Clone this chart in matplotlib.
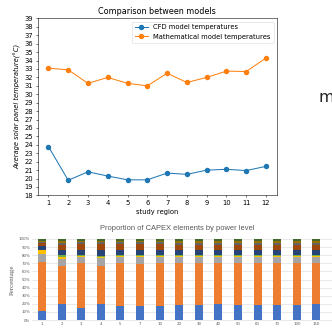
import matplotlib
matplotlib.use("Agg")
import matplotlib.pyplot as plt
import numpy as np

# ---- Top chart data ----
regions = list(range(1, 13))
cfd_temps = [23.8, 19.8, 20.8, 20.3, 19.85, 19.85, 20.65, 20.5, 21.0, 21.1, 20.95, 21.45]
math_temps = [33.1, 32.9, 31.3, 32.0, 31.3, 31.0, 32.5, 31.4, 32.0, 32.75, 32.7, 34.3]

# ---- Bottom chart data ----
power_levels = ["1", "2", "3", "4", "5", "7", "10", "20", "30", "40", "50", "60", "70", "100", "150", "200"]
seg_blue = [11.5, 20, 15, 20, 17, 17.5, 17.5, 18.5, 19, 19.5, 19, 19, 19, 19, 19.5, 19.5]
seg_orange = [59.5, 47, 55, 47, 53, 51.5, 52.5, 51.5, 51, 50.5, 51, 51, 51, 51, 50.5, 50.5]
seg_gray = [11, 8, 8, 10, 8, 9, 8, 8, 8, 8, 8, 8, 8, 8, 8, 8]
seg_yellow = [4, 3, 1, 1, 1, 1, 1, 0.5, 0.5, 0.5, 0.5, 0.5, 0.5, 0.5, 0.5, 0.5]
seg_green = [1, 2, 1.5, 1.5, 1.5, 1.5, 1.5, 1.5, 1.5, 1.5, 1.5, 1.5, 1.5, 1.5, 1.5, 1.5]
seg_darkblue = [4, 6, 6.5, 6.5, 5.5, 5.5, 5.5, 6, 6, 6, 6, 6, 6, 6, 6, 6]
seg_brown = [4, 7, 7, 8, 8, 8, 8, 7, 7, 7, 7, 7, 7, 7, 7, 7]
seg_darkgray = [1.5, 2, 2, 2, 2, 2, 2, 2, 2, 2, 2, 2, 2, 2, 2, 2]
seg_olive = [1.5, 2.5, 2, 2, 2, 2, 2, 2.5, 2.5, 2.5, 2.5, 2.5, 2.5, 2.5, 2.5, 2.5]
seg_darkgreen = [2, 2.5, 2, 2, 2, 2, 2, 2.5, 2.5, 2.5, 2.5, 2.5, 2.5, 2.5, 2.5, 2.5]

segments = [seg_blue, seg_orange, seg_gray, seg_yellow, seg_green, seg_darkblue,
            seg_brown, seg_darkgray, seg_olive, seg_darkgreen]
seg_colors = ["#4472C4", "#ED7D31", "#A5A5A5", "#FFC000", "#70AD47", "#264478",
              "#9E480E", "#636363", "#997300", "#43682B"]

s = 0.484  # scale factor

fig = plt.figure(figsize=(3.32, 3.29), dpi=100)

# ---- Top line chart ----
ax = fig.add_axes([0.113, 0.406, 0.721, 0.538])
ax.plot(regions, cfd_temps, marker='o', color='#1f77b4', lw=1.5 * s, ms=6 * s,
        label='CFD model temperatures')
ax.plot(regions, math_temps, marker='o', color='#ff7f0e', lw=1.5 * s, ms=6 * s,
        label='Mathematical model temperatures')
ax.set_ylim(18, 39)
ax.set_yticks(range(18, 40))
ax.set_xticks(regions)
ax.tick_params(labelsize=10 * s, length=3.5 * s, width=0.8 * s, pad=3.5 * s)
for sp in ax.spines.values():
    sp.set_linewidth(0.8 * s)
ax.set_title('Comparison between models', fontsize=12 * s, pad=6 * s)
ax.set_xlabel('study region', fontsize=10 * s, labelpad=4 * s)
ax.set_ylabel('Average solar panel temperature(°C)', fontsize=10 * s, labelpad=4 * s,
              style='italic')
leg = ax.legend(fontsize=10 * s, loc='upper right', borderaxespad=0.5,
                handlelength=2.0, frameon=True)
leg.get_frame().set_linewidth(0.8 * s)

# partial text at right
fig.text(318 / 332, 1 - 102 / 329, 'ma', fontsize=11.5, color='#222222',
         ha='left', va='baseline')

# ---- Bottom stacked bar chart ----
ax2 = fig.add_axes([32.2 / 332, 1 - 320 / 329, 313.6 / 332, 81 / 329])
x = np.arange(len(power_levels))
bottom = np.zeros(len(power_levels))
for vals, col in zip(segments, seg_colors):
    ax2.bar(x, vals, bottom=bottom, width=0.41, color=col, zorder=3)
    bottom += np.array(vals)
ax2.set_xlim(-0.5, len(power_levels) - 0.5)
ax2.set_ylim(0, 100)
ax2.set_yticks(range(0, 101, 10))
ax2.set_yticklabels([f"{v}%" for v in range(0, 101, 10)])
ax2.set_xticks(x)
ax2.set_xticklabels(power_levels)
ax2.tick_params(labelsize=2.8, length=0, pad=1.5, colors='#595959')
ax2.grid(axis='y', color='#D9D9D9', lw=0.4, zorder=0)
for name, sp in ax2.spines.items():
    sp.set_visible(False)
ax2.spines['bottom'].set_visible(True)
ax2.spines['bottom'].set_color('#D9D9D9')
ax2.spines['bottom'].set_linewidth(0.4)
ax2.set_ylabel('Percentage', fontsize=5, family='Liberation Serif', color='#595959',
               labelpad=3)
fig.text(177 / 332, 1 - 228 / 329, 'Proportion of CAPEX elements by power level',
         fontsize=5.4, color='#595959', ha='center', va='center',
         family='Liberation Sans')

fig.savefig('out.png', dpi=100)
